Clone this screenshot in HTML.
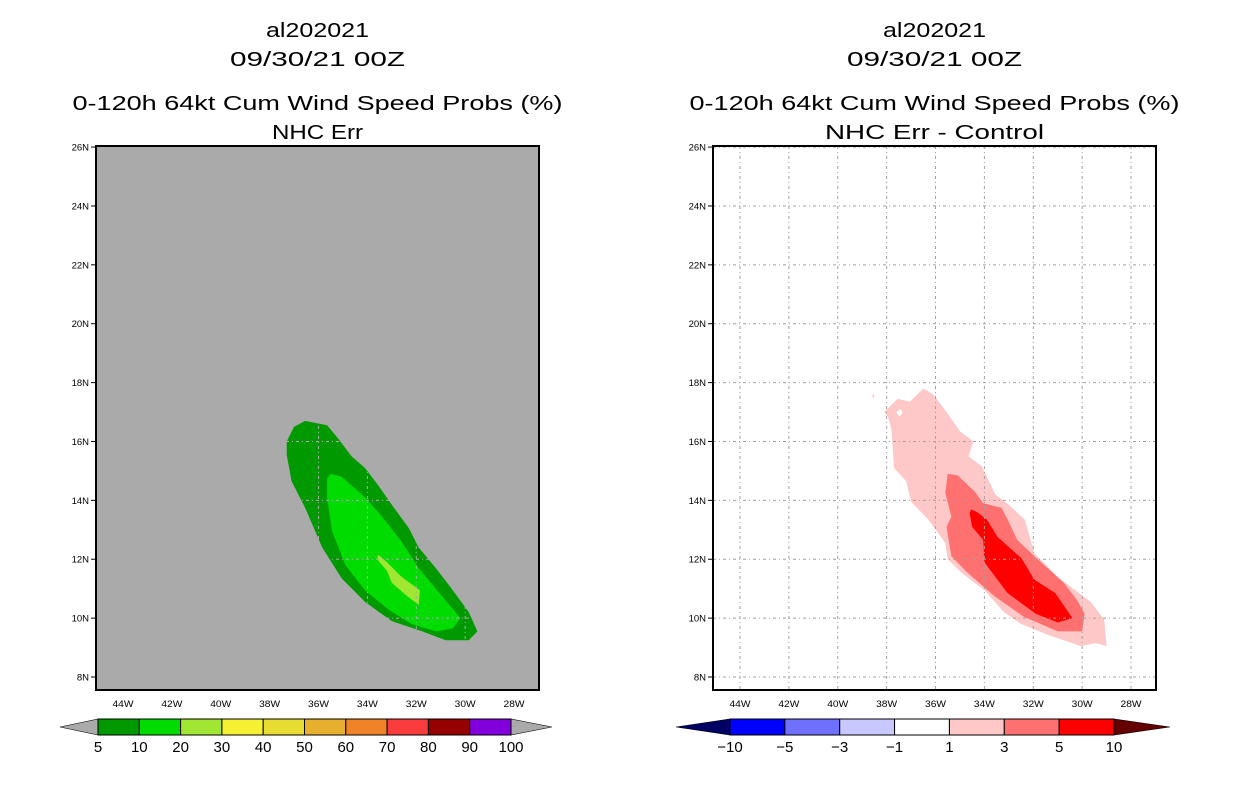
<!DOCTYPE html>
<html><head><meta charset="utf-8"><style>
body{margin:0;background:#fff;}
svg{display:block;font-family:"Liberation Sans",sans-serif;}
</style></head><body>
<svg id="s" width="1236" height="800"></svg>
<script>
// ---- data ----
const lonTicks=[-44,-42,-40,-38,-36,-34,-32,-30,-28];
const latTicks=[8,10,12,14,16,18,20,22,24,26];
const leftLevels=["5","10","20","30","40","50","60","70","80","90","100"];
const leftColors=["#009a00","#00dc00","#a0e632","#f5f032","#e6dc32","#e6af2d","#f08228","#fa3c3c","#960000","#8200dc"];
const rightLevels=["-10","-5","-3","-1","1","3","5","10"];
const rightColors=["#0000ff","#7070ff","#c8c8ff","#ffffff","#ffc8c8","#ff7070","#ff0000"];
const probOuter=[[-37.3,16.0],[-37.0,16.5],[-36.55,16.7],[-35.65,16.55],[-35.2,16.1],[-34.65,15.5],[-34.1,15.1],[-33.55,14.5],[-33.0,13.85],[-32.3,13.05],[-31.9,12.4],[-31.2,11.7],[-30.55,11.0],[-29.85,10.2],[-29.5,9.55],[-29.85,9.25],[-30.8,9.25],[-31.75,9.55],[-33.0,9.9],[-34.1,10.55],[-35.05,11.35],[-35.85,12.4],[-36.55,13.75],[-37.1,14.65],[-37.3,15.55]];
const prob10=[[-35.5,14.9],[-35.05,14.8],[-34.1,14.1],[-33.4,13.45],[-32.6,12.6],[-31.9,11.7],[-31.1,10.9],[-30.2,10.0],[-30.5,9.65],[-31.2,9.55],[-32.2,9.8],[-33.15,10.3],[-34.1,10.95],[-34.9,11.8],[-35.45,12.95],[-35.65,14.1],[-35.65,14.75]];
const prob20=[[-33.55,12.15],[-33.2,11.9],[-32.6,11.4],[-31.85,10.95],[-31.9,10.45],[-32.45,10.8],[-33.0,11.2],[-33.2,11.6],[-33.6,12.0]];
const diff1=[[-38.1,17.0],[-37.55,17.45],[-37.05,17.35],[-36.5,17.8],[-36.1,17.6],[-35.5,16.95],[-35.0,16.35],[-34.45,16.0],[-34.65,15.5],[-34.1,15.15],[-33.55,14.2],[-33.0,13.85],[-32.35,13.35],[-31.95,12.2],[-31.0,11.4],[-29.65,10.55],[-29.1,9.95],[-29.0,9.05],[-29.45,9.15],[-30.05,9.05],[-31.3,9.4],[-32.5,9.8],[-33.2,10.2],[-34.0,10.95],[-34.95,11.55],[-35.5,12.0],[-35.6,12.55],[-36.3,13.35],[-37.0,13.95],[-37.2,14.65],[-37.7,15.1],[-37.8,16.4],[-37.95,16.85]];
const diffHole=[[-37.6,17.0],[-37.4,17.1],[-37.35,16.95],[-37.5,16.85]];
const diffDot=[[-38.6,17.5],[-38.5,17.5],[-38.55,17.65]];
const diff3=[[-35.5,14.9],[-35.1,14.85],[-34.4,14.3],[-34.05,13.9],[-33.3,13.75],[-33.05,13.35],[-32.65,12.65],[-31.95,12.1],[-30.75,11.2],[-30.2,10.6],[-29.9,10.15],[-30.0,9.55],[-31.0,9.55],[-32.4,10.05],[-33.6,10.75],[-34.7,11.55],[-35.35,12.1],[-35.55,13.1],[-35.35,13.45],[-35.6,14.25]];
const diff5=[[-34.55,13.7],[-34.3,13.6],[-33.9,13.35],[-33.45,12.75],[-33.05,12.45],[-32.5,12.05],[-31.95,11.3],[-31.1,10.85],[-30.4,10.0],[-31.0,9.85],[-31.9,10.15],[-33.05,10.85],[-34.0,11.9],[-34.05,12.65],[-34.5,13.1],[-34.6,13.55]];

const NS="http://www.w3.org/2000/svg";
const svg=document.getElementById('s');
function el(tag,attrs,parent,txt){const e=document.createElementNS(NS,tag);for(const k in attrs)e.setAttribute(k,attrs[k]);if(txt!==undefined)e.textContent=txt;(parent||svg).appendChild(e);return e;}

function panel(x0,bg,gridC,titles,polys,name){
  const g=el('g',{});
  
  
  const X=lon=>x0+122-95+(lon+44)*24.44;
  const Y=lat=>677-(lat-8)*29.44;
  const cx=x0+(443/2);
  const ty=[37,66,110,139];
  titles.forEach((t,i)=>{
    const tt=el('text',{x:cx,y:ty[i],'text-anchor':'middle','font-size':20,textLength:t[1],lengthAdjust:'spacingAndGlyphs'},g,t[0]);
    
    
  });
  const bgR=el('rect',{x:x0,y:146,width:443,height:544,fill:bg},g);
  
  
  polys.forEach(p=>{
    const pp=el('polygon',{points:p.pts.map(q=>X(q[0]).toFixed(1)+','+Y(q[1]).toFixed(1)).join(' '),fill:p.c},g);
    
    
  });
  lonTicks.forEach(l=>{
    const ln=el('line',{x1:X(l),x2:X(l),y1:146,y2:690,stroke:gridC,'stroke-width':1,'stroke-dasharray':'3,3,1,3'},g);
    
    
    const t=el('text',{x:X(l),y:707,'text-anchor':'middle','font-size':9.5,textLength:21,lengthAdjust:'spacingAndGlyphs'},g,Math.abs(l)+'W');
    
    
  });
  latTicks.forEach(l=>{
    const ln=el('line',{x1:x0,x2:x0+443,y1:Y(l),y2:Y(l),stroke:gridC,'stroke-width':1,'stroke-dasharray':'3,3,1,3'},g);
    
    
    el('line',{x1:x0-5,x2:x0,y1:Y(l),y2:Y(l),stroke:'#000'},g);
    const t=el('text',{x:x0-7,y:Y(l)+3.5,'text-anchor':'end','font-size':9.5},g,l+'N');
    
    
  });
  const fr=el('rect',{x:x0,y:146,width:443,height:544,fill:'none',stroke:'#000','stroke-width':2},g);
  
  
}

panel(96,'#aaaaaa','#ababab',[["al202021",103],["09/30/21 00Z",175],["0-120h 64kt Cum Wind Speed Probs (%)",490],["NHC Err",91]],
 [{pts:probOuter,c:leftColors[0],n:'contour-5-10'},{pts:prob10,c:leftColors[1],n:'contour-10-20'},{pts:prob20,c:leftColors[2],n:'contour-20-30'}],'left-panel');
panel(713,'#ffffff','#a0a0a0',[["al202021",103],["09/30/21 00Z",175],["0-120h 64kt Cum Wind Speed Probs (%)",490],["NHC Err - Control",219]],
 [{pts:diff1,c:rightColors[4],n:'diff-1-3'},{pts:diffHole,c:'#ffffff',n:'diff-hole'},{pts:diffDot,c:rightColors[4],n:'diff-dot'},{pts:diff3,c:rightColors[5],n:'diff-3-5'},{pts:diff5,c:rightColors[6],n:'diff-5-10'}],'right-panel');

function colorbar(x0,x1,tipL,tipR,colors,levels,lowC,highC,name){
  const g=el('g',{});
  
  
  const y0=719,y1=735,ym=727;
  el('polygon',{points:`${tipL},${ym} ${x0},${y0} ${x0},${y1}`,fill:lowC,stroke:'#000','stroke-width':0.6},g);
  el('polygon',{points:`${tipR},${ym} ${x1},${y0} ${x1},${y1}`,fill:highC,stroke:'#000','stroke-width':0.6},g);
  const w=(x1-x0)/colors.length;
  colors.forEach((c,i)=>{
    const r=el('rect',{x:x0+i*w,y:y0,width:w,height:y1-y0,fill:c,stroke:'#000','stroke-width':1},g);
    
    
  });
  levels.forEach((l,i)=>{
    const t=el('text',{x:x0+i*w,y:752,'text-anchor':'middle','font-size':15},g,l.replace('-','\u2212'));
    
    
  });
}
colorbar(98,511,60,552,leftColors,leftLevels,'#aaaaaa','#aaaaaa','left-colorbar');
colorbar(730,1114,676,1170,rightColors,rightLevels,'#000064','#640000','right-colorbar');
</script>
</body></html>
